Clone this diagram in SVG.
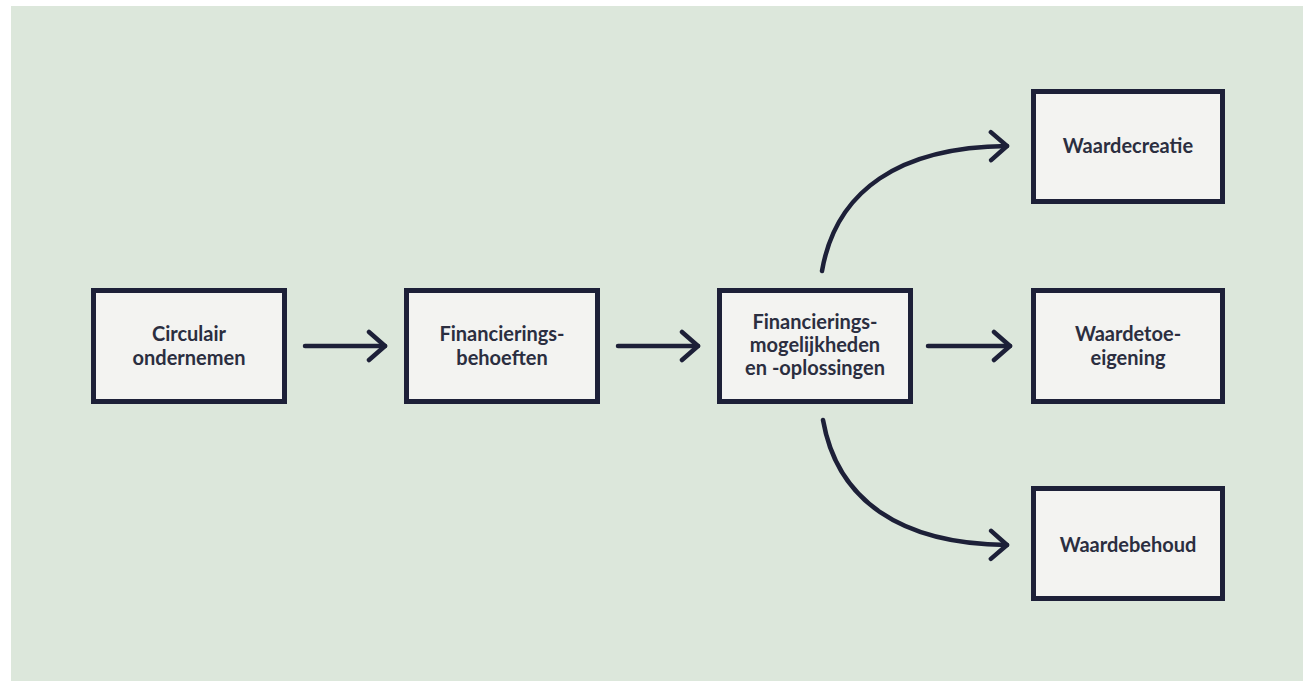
<svg xmlns="http://www.w3.org/2000/svg" width="1303" height="681" viewBox="0 0 1303 681">
<defs>
<style>
.box{fill:#f3f3f1;stroke:#1d2038;stroke-width:5}
.lbl{font-family:Lato,"Open Sans","Liberation Sans",sans-serif;font-weight:700;font-size:20px;fill:#2b2e40;text-anchor:middle}
.con{fill:none;stroke:#1d2038;stroke-width:4.5;stroke-linecap:round}
</style>
<marker id="ah" viewBox="-20 -17 24 34" markerWidth="24" markerHeight="34" refX="0" refY="0" orient="auto" markerUnits="userSpaceOnUse">
<path d="M-16,-14 L0,0 L-16,14" fill="none" stroke="#1d2038" stroke-width="4.5" stroke-linecap="round" stroke-linejoin="round"/>
</marker>
</defs>
<rect x="0" y="0" width="1303" height="681" fill="#ffffff"/>
<rect x="11" y="6" width="1292" height="675" fill="#dce7db"/>
<g id="connectors">
<path class="con" d="M305,346 L385,346" marker-end="url(#ah)"/>
<path class="con" d="M618,346 L698,346" marker-end="url(#ah)"/>
<path class="con" d="M928,346 L1010,346" marker-end="url(#ah)"/>
<path class="con" d="M822,271 C836,190 900,147 1007,146" marker-end="url(#ah)"/>
<path class="con" d="M823,420 C837,500 900,544 1007,545" marker-end="url(#ah)"/>
</g>
<g id="n1"><rect class="box" x="93.5" y="290.5" width="191" height="111"/><text class="lbl" x="189" y="341">Circulair</text><text class="lbl" x="189" y="365">ondernemen</text></g>
<g id="n2"><rect class="box" x="406.5" y="290.5" width="191" height="111"/><text class="lbl" x="502" y="341">Financierings-</text><text class="lbl" x="502" y="365">behoeften</text></g>
<g id="n3"><rect class="box" x="719.5" y="290.5" width="191" height="111"/><text class="lbl" x="815" y="329">Financierings-</text><text class="lbl" x="815" y="352">mogelijkheden</text><text class="lbl" x="815" y="375">en -oplossingen</text></g>
<g id="n4"><rect class="box" x="1033.5" y="91.5" width="189" height="110"/><text class="lbl" x="1128" y="153">Waardecreatie</text></g>
<g id="n5"><rect class="box" x="1033.5" y="290.5" width="189" height="111"/><text class="lbl" x="1128" y="341">Waardetoe-</text><text class="lbl" x="1128" y="365">eigening</text></g>
<g id="n6"><rect class="box" x="1033.5" y="488.5" width="189" height="110"/><text class="lbl" x="1128" y="552">Waardebehoud</text></g>
</svg>
